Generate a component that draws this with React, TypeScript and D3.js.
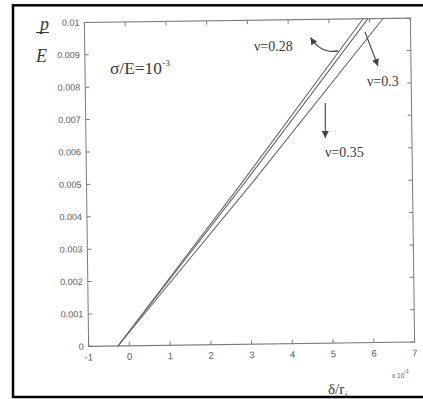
import React from "react";
import * as d3 from "d3";

const X_TICKS = [-1, 0, 1, 2, 3, 4, 5, 6, 7];
const X_TICK_LABELS = ["-1", "0", "1", "2", "3", "4", "5", "6", "7"];
const Y_TICKS = [0, 0.001, 0.002, 0.003, 0.004, 0.005, 0.006, 0.007, 0.008, 0.009, 0.01];
const Y_TICK_LABELS = ["0", "0.001", "0.002", "0.003", "0.004", "0.005", "0.006", "0.007", "0.008", "0.009", "0.01"];

const P_OVER_E = [0, 0.005, 0.01];
const DELTA_NU028 = [-0.28, 2.82, 5.84];
const DELTA_NU030 = [-0.28, 2.89, 5.96];
const DELTA_NU035 = [-0.28, 3.08, 6.33];
const SERIES = [DELTA_NU028, DELTA_NU030, DELTA_NU035];

const W = 423;
const H = 399;
const X0 = 86.5, X1 = 412.5, Y0 = 20.25, Y1 = 344.25;
const CX = (X0 + X1) / 2, CY = (Y0 + Y1) / 2;

const SERIF = "'Liberation Serif', 'Times New Roman', serif";
const SANS = "'Liberation Sans', Arial, sans-serif";

export default function App() {
  const x = d3.scaleLinear().domain([-1, 7]).range([X0, X1]);
  const y = d3.scaleLinear().domain([0, 0.01]).range([Y1, Y0]);
  const line = d3
    .line<[number, number]>()
    .x((d) => x(d[0]))
    .y((d) => y(d[1]));

  const axisColor = "#7a7a7a";
  const labelColor = "#5a5a5a";
  const textColor = "#3a3a3a";
  const tick = 4;

  return (
    <svg
      width={W}
      height={H}
      style={{ position: "absolute", left: 0, top: 0, display: "block", background: "#fff" }}
    >
      <defs>
        <marker id="ah" viewBox="0 0 10 10" refX="10" refY="5" markerWidth="9" markerHeight="7" markerUnits="userSpaceOnUse" orient="auto">
          <path d="M0,0 L10,5 L0,10 z" fill="#444" />
        </marker>
      </defs>
      <rect x={0} y={0} width={W} height={H} fill="#fff" />
      {/* outer frame */}
      <rect x={13} y={5.3} width={420} height={391.7} fill="none" stroke="#000" strokeWidth={2.5} />

      <g transform={`rotate(-0.75 ${CX} ${CY})`}>
        <rect x={X0} y={Y0} width={X1 - X0} height={Y1 - Y0} fill="none" stroke={axisColor} strokeWidth={1} />
        {X_TICKS.map((t, i) => (
          <g key={"xt" + i}>
            <line x1={x(t)} x2={x(t)} y1={Y1} y2={Y1 - tick} stroke={axisColor} strokeWidth={1} />
            <line x1={x(t)} x2={x(t)} y1={Y0} y2={Y0 + tick} stroke={axisColor} strokeWidth={1} />
            <text x={x(t)} y={Y1 + 14} textAnchor="middle" fontFamily={SANS} fontSize={9.5} fill={labelColor}>
              {X_TICK_LABELS[i]}
            </text>
          </g>
        ))}
        {Y_TICKS.map((t, i) => (
          <g key={"yt" + i}>
            <line x1={X0} x2={X0 + tick} y1={y(t)} y2={y(t)} stroke={axisColor} strokeWidth={1} />
            <line x1={X1} x2={X1 - tick} y1={y(t)} y2={y(t)} stroke={axisColor} strokeWidth={1} />
            <text x={X0 - 5} y={y(t)} dy="0.35em" textAnchor="end" fontFamily={SANS} fontSize={9} fill={labelColor}>
              {Y_TICK_LABELS[i]}
            </text>
          </g>
        ))}
        {SERIES.map((s, k) => (
          <path
            key={"s" + k}
            d={line(s.map((v, j) => [v, P_OVER_E[j]] as [number, number])) || ""}
            fill="none"
            stroke="#6a6a6a"
            strokeWidth={1.1}
          />
        ))}
      </g>

      {/* y-axis label p/E */}
      <text x={40} y={30} fontFamily={SERIF} fontStyle="italic" fontSize={18} fill={textColor}>
        p
      </text>
      <line x1={36} x2={49} y1={32.5} y2={32.5} stroke={textColor} strokeWidth={1} />
      <text x={36} y={62} fontFamily={SERIF} fontStyle="italic" fontSize={18} fill={textColor}>
        E
      </text>

      {/* sigma annotation */}
      <text x={110} y={74} fontFamily={SERIF} fontSize={16} fill={textColor} textLength={52} lengthAdjust="spacingAndGlyphs">
        σ/E=10
      </text>
      <text x={162.5} y={66} fontFamily={SERIF} fontSize={9} fill={textColor}>
        -3
      </text>

      {/* nu labels */}
      <text x={254} y={51} fontFamily={SERIF} fontSize={14} fill={textColor}>
        ν=0.28
      </text>
      <text x={367} y={86} fontFamily={SERIF} fontSize={14} fill={textColor}>
        ν=0.3
      </text>
      <text x={325} y={157} fontFamily={SERIF} fontSize={14} fill={textColor}>
        ν=0.35
      </text>

      {/* arrows */}
      <path d="M338,51 Q321,54 310.5,37.5" fill="none" stroke="#444" strokeWidth={1.3} markerEnd="url(#ah)" />
      <line x1={365} y1={32} x2={378} y2={66} stroke="#444" strokeWidth={1.1} markerEnd="url(#ah)" />
      <line x1={325.3} y1={103} x2={325.3} y2={138} stroke="#444" strokeWidth={1.1} markerEnd="url(#ah)" />

      {/* x-axis label */}
      <text x={328} y={394} fontFamily={SERIF} fontSize={15} fill={textColor}>
        δ/r
      </text>
      <text x={345} y={397} fontFamily={SERIF} fontSize={8} fill={textColor}>
        i
      </text>
      <text x={392} y={378} fontFamily={SANS} fontSize={6.5} fill={labelColor}>
        x 10
      </text>
      <text x={404} y={373} fontFamily={SANS} fontSize={5} fill={labelColor}>
        -3
      </text>
    </svg>
  );
}
